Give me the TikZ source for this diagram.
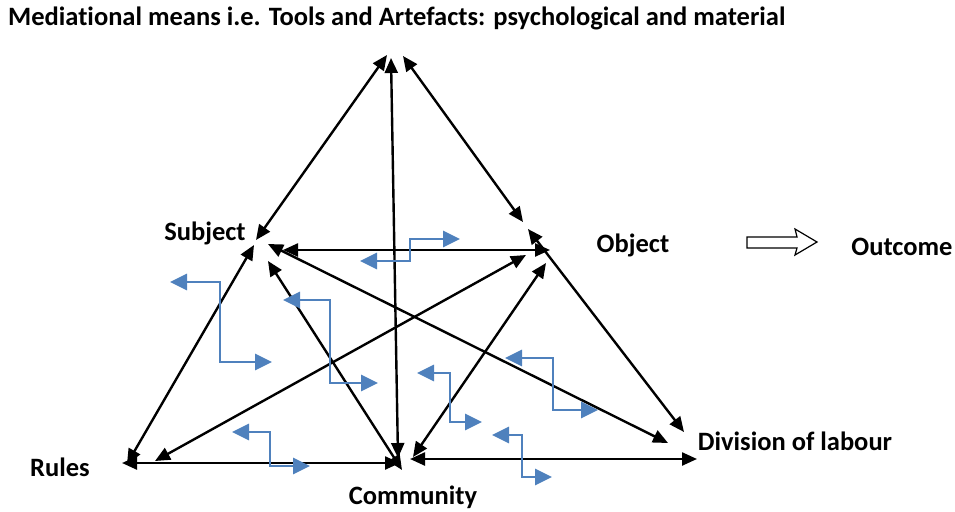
\documentclass[tikz,border=0pt]{standalone}
\usepackage{fontspec}
\setmainfont{Carlito}[Ligatures={NoCommon,NoRequired,NoContextual}]
\usetikzlibrary{arrows.meta}
\definecolor{stepblue}{RGB}{79,129,189}
\begin{document}
\begin{tikzpicture}[x=1pt,y=-1pt,
    lbl/.style={font=\bfseries\fontsize{26.5}{30}\selectfont, inner sep=0pt},
    link/.style={line width=2.4pt, {Triangle[length=15pt,width=13pt]}-{Triangle[length=15pt,width=13pt]}},
    swap/.style={line width=2.8pt, draw=stepblue, {Triangle[length=17pt,width=16pt]}-{Triangle[length=17pt,width=16pt]}}]
    \useasboundingbox (0,0) rectangle (955,511);
    % labels
    \node[lbl, anchor=west] (title) at (8,18) {Mediational means i.e. Tools and Artefacts: psychological and material};
    \node[lbl] (subject) at (205,233) {Subject};
    \node[lbl] (object) at (633,245) {Object};
    \node[lbl] (outcome) at (902,247) {Outcome};
    \node[lbl] (division) at (795,441) {Division of labour};
    \node[lbl] (rules) at (60,467) {Rules};
    \node[lbl] (community) at (413,497) {Community};
    % ends of the links
    \coordinate (topL) at (387,55);
    \coordinate (topM) at (391,58);
    \coordinate (topR) at (403,56);
    \coordinate (subA) at (256,240);
    \coordinate (subB) at (254,245);
    \coordinate (subC) at (283,250);
    \coordinate (subD) at (268,244);
    \coordinate (subE) at (268,261);
    \coordinate (objA) at (523,222);
    \coordinate (objB) at (528,229);
    \coordinate (objC) at (550,250);
    \coordinate (objD) at (526,255);
    \coordinate (objE) at (546,263);
    \coordinate (rulA) at (127,464);
    \coordinate (rulB) at (122,463);
    \coordinate (rulC) at (155,461);
    \coordinate (comA) at (398,458);
    \coordinate (comB) at (400,463);
    \coordinate (comC) at (402,470);
    \coordinate (comD) at (413,457);
    \coordinate (comE) at (410,459);
    \coordinate (divA) at (684,432);
    \coordinate (divB) at (668,443);
    \coordinate (divC) at (697,459);
    % the links
    \draw[link] (subA) -- (topL);
    \draw[link] (topM) -- (comA);
    \draw[link] (topR) -- (objA);
    \draw[link] (subB) -- (rulA);
    \draw[link] (subC) -- (objC);
    \draw[link] (subD) -- (divB);
    \draw[link] (subE) -- (comC);
    \draw[link] (rulC) -- (objD);
    \draw[link] (comD) -- (objE);
    \draw[link] (objB) -- (divA);
    \draw[link] (rulB) -- (comB);
    \draw[link] (comE) -- (divC);
    % blue steps
    \foreach \xa/\ya/\xv/\yb/\xb in {170/282/220/362/272, 283/300/330/383/378, 232/432/270/466/310,
        417/373/450/422/482, 505/358/553/410/598, 492/435/522/477/552}
        \draw[swap] (\xa,\ya) -- (\xv,\ya) -- (\xv,\yb) -- (\xb,\yb);
    \draw[swap] (360,261) -- (410,261) -- (410,239) -- (460,239);
    % outcome arrow
    \draw[line width=1.2pt, fill=white] (747,237) -- (797,237) -- (795,229) -- (817,242)
        -- (795,255) -- (797,248) -- (747,248) -- cycle;
\end{tikzpicture}
\end{document}
